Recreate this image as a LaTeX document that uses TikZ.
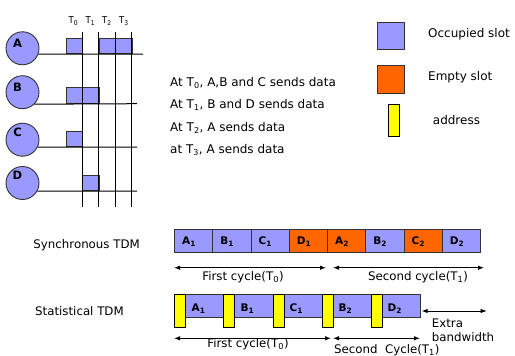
\documentclass[tikz,border=0pt]{standalone}
\usepackage{fontspec}
\setmainfont{DejaVu Sans}
\newfontfamily\condfont{DejaVu Sans Condensed}
\usetikzlibrary{arrows.meta}
\definecolor{slotblue}{HTML}{9999FF}
\definecolor{slotorange}{HTML}{FF6600}
\definecolor{addryellow}{HTML}{FFFF00}
\definecolor{rim}{HTML}{333333}
\tikzset{
  station/.style={circle, draw=rim, line width=0.9pt, fill=slotblue, minimum size=33pt, inner sep=0pt},
  stlabel/.style={font=\fontsize{11.5}{13}\selectfont\bfseries, inner sep=0pt},
  wire/.style={line width=1pt, draw=black},
  gridbox/.style={draw=rim, line width=0.8pt, fill=slotblue, anchor=south west, inner sep=0pt, minimum height=15.7pt},
  tlabel/.style={font=\condfont\fontsize{9.5}{11}\selectfont, anchor=base, inner sep=0pt},
  body/.style={font=\fontsize{12}{14}\selectfont, anchor=base west, inner sep=0pt},
  legendbox/.style={draw=rim, line width=0.8pt, anchor=north west, inner sep=0pt},
  slot/.style={draw=rim, line width=0.8pt, anchor=north west, inner sep=0pt, minimum width=38.25pt, minimum height=22.4pt},
  slotlabel/.style={font=\fontsize{10.5}{12}\selectfont\bfseries, anchor=west, inner sep=0pt},
  addr/.style={draw=black, line width=0.8pt, fill=addryellow, anchor=north west, inner sep=0pt, minimum width=11pt, minimum height=33pt},
  span/.style={line width=0.9pt, {Latex[length=6pt,width=4.5pt]}-{Latex[length=6pt,width=4.5pt]}},
  caption/.style={font=\fontsize{11.8}{14}\selectfont, inner sep=0pt}
}
\begin{document}
\begin{tikzpicture}[x=1pt,y=-1pt]
\useasboundingbox (0,0) rectangle (515,356);

% ---- stations and their time lines ----
\node[gridbox, minimum width=16.6pt] (a0) at (65.7,54) {};
\node[gridbox, minimum width=32.6pt] (a23) at (98.7,54) {};
\node[gridbox, minimum width=16.5pt] (a3) at (115,54) {};
\node[gridbox, minimum width=33pt] (b01) at (65.7,103.7) {};
\node[gridbox, minimum width=16.6pt] (c0) at (65.7,147) {};
\node[gridbox, minimum width=16.4pt] (d1) at (82.3,191) {};

\foreach \x/\n in {82.3/0, 98.7/1, 115/2, 131.3/3} {
  \coordinate (top\n) at (\x,32);
  \coordinate (bot\n) at (\x,207);
  \draw[wire] (top\n) -- (bot\n);
}

\coordinate (Aend) at (143,54);
\coordinate (Bend) at (137,103.7);
\coordinate (Cend) at (137,147);
\coordinate (Dend) at (137,191);

\node[station] (A) at (22.5,48.3) {};
\node[station] (B) at (22.5,92.2) {};
\node[station] (C) at (22.5,139.7) {};
\node[station] (D) at (22.5,183) {};

\draw[wire] (A.-20) -- (Aend);
\draw[wire] (B.-45) -- (Bend);
\draw[wire] (C.-26) -- (Cend);
\draw[wire] (D.-29) -- (Dend);

\node[stlabel] (Al) at (17.5,43.5) {A};
\node[stlabel] (Bl) at (17.5,87.5) {B};
\node[stlabel] (Cl) at (17.5,132.5) {C};
\node[stlabel] (Dl) at (17.5,175.5) {D};

\node[tlabel] (T0) at (73.5,23.3) {T\textsubscript{0}};
\node[tlabel] (T1) at (90.5,23.3) {T\textsubscript{1}};
\node[tlabel] (T2) at (107,23.3) {T\textsubscript{2}};
\node[tlabel] (T3) at (124,23.3) {T\textsubscript{3}};

% ---- description ----
\node[body] (l1) at (170,86.3) {At T\textsubscript{0}, A,B and C sends data};
\node[body] (l2) at (170,108.8) {At T\textsubscript{1}, B and D sends data};
\node[body] (l3) at (170,131.3) {At T\textsubscript{2}, A sends data};
\node[body] (l4) at (170,153.8) {at T\textsubscript{3}, A sends data};

% ---- legend ----
\node[legendbox, fill=slotblue, minimum width=27.6pt, minimum height=27.6pt] (occ) at (376.7,21.7) {};
\node[legendbox, fill=slotorange, minimum width=27.6pt, minimum height=27.4pt] (emp) at (376.7,65.3) {};
\node[legendbox, draw=black, fill=addryellow, minimum width=11.3pt, minimum height=32pt] (adr) at (387.7,104) {};
\node[body, anchor=west] (occt) at (428,34) {Occupied slot};
\node[body, anchor=west] (empt) at (428,77.5) {Empty slot};
\node[body, anchor=west] (adrt) at (432.7,120) {address};

% ---- synchronous TDM ----
\node[caption, anchor=west] (sync) at (33.3,245.5) {Synchronous TDM};
\foreach \i/\c/\t in {0/slotblue/A\textsubscript{1}, 1/slotblue/B\textsubscript{1},
                      2/slotblue/C\textsubscript{1}, 3/slotorange/D\textsubscript{1},
                      4/slotorange/A\textsubscript{2}, 5/slotblue/B\textsubscript{2},
                      6/slotorange/C\textsubscript{2}, 7/slotblue/D\textsubscript{2}} {
  \node[slot, fill=\c] (s\i) at ({174+38.25*\i},229.3) {};
  \node[slotlabel] (sl\i) at ([xshift=8pt,yshift=-1pt]s\i.west) {\t};
}
\coordinate (c1a) at (174,267.7);
\coordinate (c1b) at (326,267.7);
\coordinate (c2a) at (333,267.7);
\coordinate (c2b) at (484,267.7);
\draw[span] (c1a) -- (c1b);
\draw[span] (c2a) -- (c2b);
\node[caption] (f1) at (243,277) {First cycle(T\textsubscript{0})};
\node[caption] (f2) at (418,277) {Second cycle(T\textsubscript{1})};

% ---- statistical TDM ----
\node[caption, anchor=west] (stat) at (35,311.5) {Statistical TDM};
\node[draw=rim, line width=0.8pt, fill=slotblue, anchor=north west, inner sep=0pt,
      minimum width=246pt, minimum height=23pt] (bar) at (174,294.3) {};
\foreach \i/\x in {0/174, 1/223.3, 2/272.7, 3/321.7, 4/370.7} {
  \node[addr] (y\i) at (\x,294.3) {};
}
\node[slotlabel] (p1) at (191.5,308.5) {A\textsubscript{1}};
\node[slotlabel] (p2) at (240.5,308.5) {B\textsubscript{1}};
\node[slotlabel] (p3) at (289.5,308.5) {C\textsubscript{1}};
\node[slotlabel] (p4) at (338.5,308.5) {B\textsubscript{2}};
\node[slotlabel] (p5) at (387.5,308.5) {D\textsubscript{2}};

\coordinate (e1a) at (174,338.3);
\coordinate (e1b) at (331,338.3);
\coordinate (e2a) at (333,338.3);
\coordinate (e2b) at (420,338.3);
\coordinate (xa) at (421.7,311);
\coordinate (xb) at (486.7,311);
\draw[span] (e1a) -- (e1b);
\draw[span] (e2a) -- (e2b);
\draw[span] (xa) -- (xb);
\node[caption] (g1) at (248,344.5) {First cycle(T\textsubscript{0})};
\node[caption, anchor=west] (g2) at (334,350) {Second\ \ Cycle(T\textsubscript{1})};
\node[caption, anchor=west] (x1) at (431.7,323.5) {Extra};
\node[caption, anchor=west] (x2) at (431.7,337.5) {bandwidth};
\end{tikzpicture}
\end{document}
